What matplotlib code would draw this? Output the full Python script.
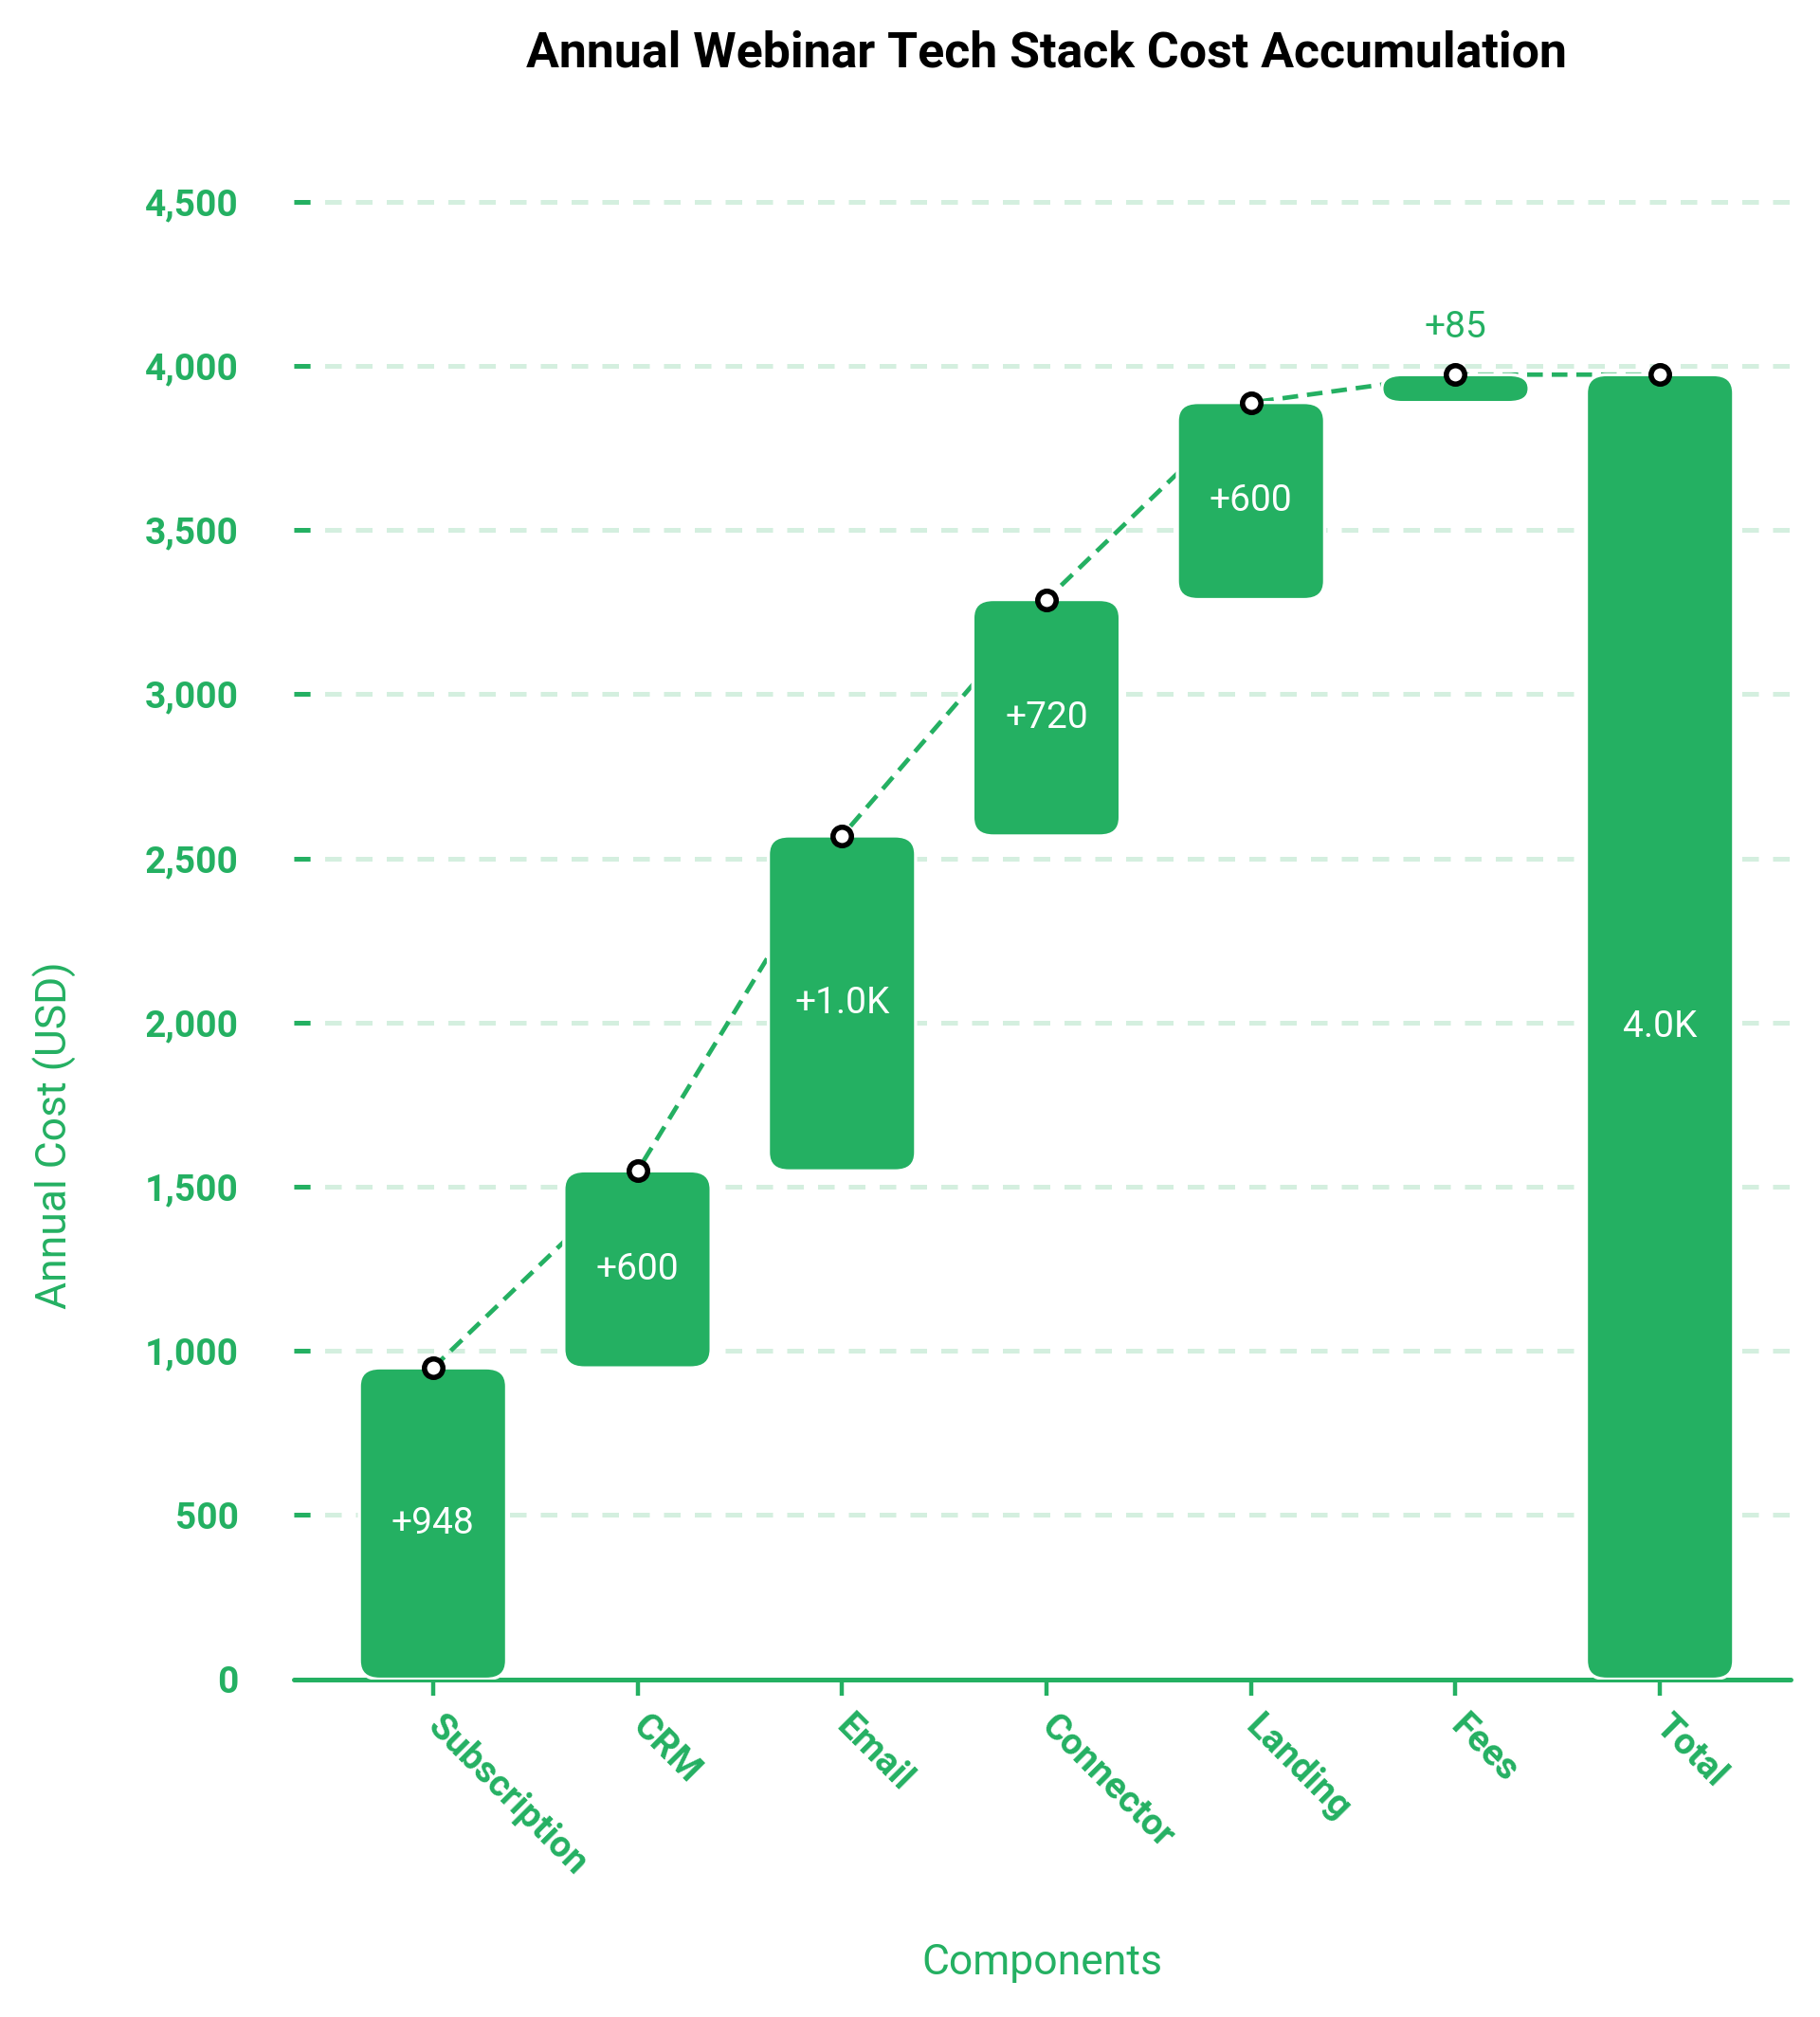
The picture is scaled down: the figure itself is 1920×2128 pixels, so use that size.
import matplotlib
matplotlib.use('Agg')
import matplotlib.pyplot as plt
from matplotlib.patches import FancyBboxPatch
import numpy as np

plt.rcParams['font.family'] = ['Roboto', 'DejaVu Sans']

# data
categories = ['Subscription', 'CRM', 'Email', 'Connector', 'Landing', 'Fees', 'Total']
changes = [948, 600, 1020, 720, 600, 85]
bar_labels = ['+948', '+600', '+1.0K', '+720', '+600', '+85', '4.0K']

green = '#24b062'
grid_col = '#d4efdf'

cum = np.cumsum(changes)
total = cum[-1]
bottoms = list(np.concatenate([[0], cum[:-1]])) + [0]
heights = list(changes) + [total]
tops = list(cum) + [total]

fig = plt.figure(figsize=(9.6, 10.64), dpi=200)
ax = fig.add_axes([0.1615, 0.1675, 0.8225, 0.77])

ax.set_xlim(-0.68, 6.64)
ax.set_ylim(0, 4730)

# rounded bars
w = 0.72
rx = 0.1
asp = 560
for i in range(len(categories)):
    h = heights[i]
    a = asp
    if h < 2 * rx * a:
        a = h / 2.0 / rx
    p = FancyBboxPatch((i - w / 2, bottoms[i]), w, h,
                       boxstyle='round,pad=0,rounding_size=%f' % rx,
                       mutation_aspect=a, facecolor=green,
                       edgecolor='white', linewidth=1.2, zorder=3)
    ax.add_patch(p)

# connector line and markers
x = np.arange(len(categories))
ax.plot(x, tops, color=green, linestyle=(0, (3.5, 2)), lw=1.7, zorder=2)
ax.plot(x, tops, linestyle='none', marker='o', markersize=7,
        markerfacecolor='white', markeredgecolor='black', markeredgewidth=2, zorder=5)

# value labels
for i in range(len(categories)):
    if heights[i] < 200:
        ax.text(i, tops[i] + 90, bar_labels[i], ha='center', va='bottom',
                color=green, fontsize=14, zorder=6)
    else:
        ax.text(i, bottoms[i] + heights[i] / 2, bar_labels[i], ha='center', va='center',
                color='white', fontsize=14, zorder=6)

# axes styling
ax.set_yticks(np.arange(0, 4501, 500))
ax.set_yticklabels(['{:,}'.format(v) for v in range(0, 4501, 500)])
ax.yaxis.grid(True, color=grid_col, linestyle=(0, (3.5, 3)), lw=1.8)
ax.set_axisbelow(True)
for s in ['left', 'right', 'top']:
    ax.spines[s].set_visible(False)
ax.spines['bottom'].set_color(green)
ax.spines['bottom'].set_linewidth(1.8)
ax.spines['bottom'].set_capstyle('round')

ax.tick_params(axis='y', colors=green, direction='in', length=6, width=1.8,
               pad=21, labelsize=14)
ax.tick_params(axis='x', colors=green, length=6, width=1.6, pad=10, labelsize=14)
for t in ax.get_yticklabels():
    t.set_fontweight('bold')

ax.set_xticks(x)
ax.set_xticklabels(categories, rotation=-45, ha='left', va='center',
                   rotation_mode='anchor', fontweight='bold')

ax.set_xlabel('Components', color=green, fontsize=16, labelpad=23)
ax.set_ylabel('Annual Cost (USD)', color=green, fontsize=16)
ax.yaxis.set_label_coords(-0.145, 0.35)

fig.suptitle('Annual Webinar Tech Stack Cost Accumulation', fontsize=18.7,
             fontweight='bold', x=0.575, y=0.985)

fig.savefig('out.png', dpi=200)
